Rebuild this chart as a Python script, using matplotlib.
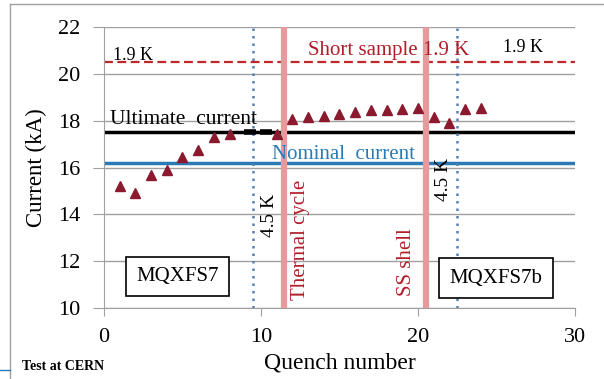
import matplotlib.pyplot as plt
from matplotlib.lines import Line2D

plt.rcParams['font.family'] = ['Liberation Serif', 'DejaVu Serif']

# quench currents (kA)
quench = [1, 2, 3, 4, 5, 6, 7, 8, 11, 12, 13, 14, 15, 16, 17, 18, 19, 20, 21, 22, 23, 24]
current = [15.2, 14.9, 15.7, 15.9, 16.45, 16.75, 17.3, 17.45, 17.45, 18.05, 18.15, 18.2,
           18.3, 18.35, 18.45, 18.45, 18.5, 18.55, 18.15, 17.9, 18.5, 18.55]
# no-quench holds at ultimate current
hold_x = [9.3, 10.3]
hold_y = [17.5, 17.5]

short_sample = 20.5
ultimate = 17.5
nominal = 16.2
temp_change = [9.5, 22.5]
events = [11.5, 20.5]

fig = plt.figure(figsize=(6.04, 3.79), dpi=100)
ax = fig.add_axes([0.172, 0.187, 0.78, 0.742])

ax.set_xlim(0, 30)
ax.set_ylim(10, 22)
ax.set_xticks([0, 10, 20, 30])
ax.set_yticks(range(10, 23, 2))
ax.grid(axis='y', color='#a0a0a0', lw=1)
ax.set_axisbelow(True)
for s in ['top', 'right']:
    ax.spines[s].set_visible(False)
for s in ['left', 'bottom']:
    ax.spines[s].set_color('#a0a0a0')
ax.tick_params(colors='#a0a0a0', labelcolor='black', labelsize=16)
ax.tick_params(axis='y', length=8, pad=9)
ax.tick_params(axis='x', length=6, pad=8)

ax.axhline(short_sample, color='#c0272d', ls=(0, (4, 2)), lw=1.6)
ax.axhline(ultimate, color='black', lw=2.5)
ax.axhline(nominal, color='#2a7ab5', lw=2.5)

for x in temp_change:
    ax.axvline(x, color='#5b7fae', ls=(0, (1, 2)), lw=1.8)
for x in events:
    ax.axvline(x, color='#e79a9c', lw=4.5)

ax.plot(quench, current, ls='none', marker='^', ms=7, color='#8b1a2e')
ax.plot(hold_x, hold_y, ls='none', marker='_', ms=9, mew=4, color='black')

ax.text(0.6, 20.58, '1.9 K', fontsize=13, va='baseline')
ax.text(13, 20.78, 'Short sample 1.9 K', fontsize=15, color='#b01e2a', va='baseline')
ax.text(25.4, 20.92, '1.9 K', fontsize=13, va='baseline')
ax.text(0.4, 17.85, 'Ultimate  current', fontsize=15.5, va='baseline')
ax.text(10.7, 16.38, 'Nominal  current', fontsize=15, color='#2a7ab5', va='baseline')
ax.text(10.57, 13.97, '4.5 K', fontsize=14, rotation=90, ha='center', va='center')
ax.text(12.55, 12.9, 'Thermal cycle', fontsize=15, rotation=90, color='#b01e2a',
        ha='center', va='center')
ax.text(19.3, 11.97, 'SS shell', fontsize=15, rotation=90, color='#b01e2a',
        ha='center', va='center')
ax.text(21.6, 15.5, '4.5 K', fontsize=14, rotation=90, ha='center', va='center')

box = dict(boxstyle='square,pad=0.5', fc='white', ec='black', lw=1.2)
ax.text(4.68, 11.35, 'MQXFS7', fontsize=15, ha='center', va='center', bbox=box)
ax.text(24.95, 11.28, 'MQXFS7b', fontsize=15, ha='center', va='center', bbox=box)

ax.set_ylabel('Current (kA)', fontsize=16.5, labelpad=8)
ax.set_xlabel('Quench number', fontsize=17, labelpad=4)

fig.text(0.036, 0.024, 'Test at CERN', fontsize=10, fontweight='bold')

# slide frame
fig.add_artist(Line2D([0.017, 0.017], [0, 0.99], color='#a0a0a0', lw=1))
fig.add_artist(Line2D([0.017, 1], [0.99, 0.99], color='#a0a0a0', lw=1))
fig.add_artist(Line2D([0, 0.017], [0.025, 0.025], color='#2a7ab5', lw=1))

fig.savefig('out.png', dpi=100)
